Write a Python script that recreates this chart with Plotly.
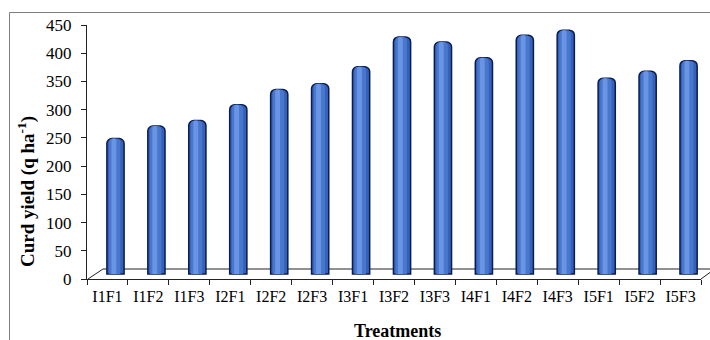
import plotly.graph_objects as go

# Treatments and curd yield (q/ha)
treatments = ["I1F1", "I1F2", "I1F3", "I2F1", "I2F2", "I2F3", "I3F1", "I3F2",
              "I3F3", "I4F1", "I4F2", "I4F3", "I5F1", "I5F2", "I5F3"]
curd_yield = [240, 262, 272, 300, 327, 337, 367, 420, 411, 383, 423, 432, 347, 359, 378]
y_ticks = [0, 50, 100, 150, 200, 250, 300, 350, 400, 450]

W, H = 710, 340
L, R, T, B = 87, 9, 25, 61
plot_w = W - L - R
plot_h = H - T - B


def px_x(px):
    return (px - L) / plot_w


def px_y(py):
    return (H - B - py) / plot_h


SERIF = "Liberation Serif, Times New Roman, serif"
depth_shift = 0.196  # bars sit behind the front axis plane

fig = go.Figure()

# keeps the front value axis populated so it is drawn
fig.add_trace(go.Scatter(
    x=[treatments[0]], y=[0], yaxis="y", mode="markers",
    marker=dict(opacity=0, size=1), hoverinfo="skip",
))

# cylinder body
fig.add_trace(go.Bar(
    x=treatments, y=curd_yield, yaxis="y2",
    width=0.42, offset=-0.21 + depth_shift,
    marker=dict(color="#3461ba", line=dict(color="#0c1c4c", width=1.5), cornerradius=5),
    hoverinfo="skip",
))
# shading bands
fig.add_trace(go.Bar(
    x=treatments, y=curd_yield, yaxis="y2",
    width=0.28, offset=-0.16 + depth_shift,
    marker=dict(color="#4877cc", line=dict(width=0), cornerradius=4),
    hoverinfo="skip",
))
fig.add_trace(go.Bar(
    x=treatments, y=curd_yield, yaxis="y2",
    width=0.12, offset=-0.10 + depth_shift,
    marker=dict(color="#6995e4", line=dict(width=0), cornerradius=3),
    hoverinfo="skip",
))

line_col = "#222222"
shapes = [
    # outer chart frame
    dict(type="rect", xref="paper", yref="paper",
         x0=px_x(9.5), x1=px_x(760), y0=px_y(400), y1=px_y(12.5),
         line=dict(color="#7f7f7f", width=1), layer="below"),
    # floor: back edge and side edges
    dict(type="line", xref="paper", yref="paper",
         x0=px_x(103), x1=px_x(712), y0=px_y(269), y1=px_y(269),
         line=dict(color=line_col, width=1), layer="below"),
    dict(type="line", xref="paper", yref="paper",
         x0=px_x(88), x1=px_x(103), y0=px_y(279), y1=px_y(269),
         line=dict(color=line_col, width=1), layer="below"),
    dict(type="line", xref="paper", yref="paper",
         x0=px_x(701), x1=px_x(712), y0=px_y(279), y1=px_y(271),
         line=dict(color=line_col, width=1), layer="below"),
]

annotations = [
    dict(text="<b>Curd yield (q ha<sup>-1</sup>)</b>", xref="paper", yref="paper",
         x=px_x(27), y=px_y(192), textangle=-90, showarrow=False,
         xanchor="center", yanchor="middle",
         font=dict(family=SERIF, size=19, color="black")),
    dict(text="<b>Treatments</b>", xref="paper", yref="paper",
         x=px_x(397), y=px_y(331), showarrow=False,
         xanchor="center", yanchor="middle",
         font=dict(family=SERIF, size=18, color="black")),
]

shift_units = 5 / (plot_h / 450)

fig.update_layout(
    width=W, height=H,
    margin=dict(l=L, r=R, t=T, b=B),
    paper_bgcolor="white", plot_bgcolor="white",
    barmode="overlay", showlegend=False,
    shapes=shapes, annotations=annotations,
    xaxis=dict(
        type="category", range=[-0.5, 14.5],
        showline=True, linecolor=line_col, linewidth=1,
        ticks="outside", ticklen=5, tickcolor=line_col, tickson="boundaries",
        ticklabelstandoff=3,
        tickfont=dict(family=SERIF, size=16, color="black"),
        showgrid=False, zeroline=False,
    ),
    yaxis=dict(
        range=[0, 450], tickvals=y_ticks,
        showline=True, linecolor=line_col, linewidth=1,
        ticks="outside", ticklen=5, tickcolor=line_col,
        ticklabelstandoff=6,
        tickfont=dict(family=SERIF, size=17, color="black"),
        showgrid=False, zeroline=False,
    ),
    yaxis2=dict(
        overlaying="y", range=[-shift_units, 450 - shift_units],
        visible=False, showgrid=False, zeroline=False,
    ),
)

fig.write_html("out.html")
